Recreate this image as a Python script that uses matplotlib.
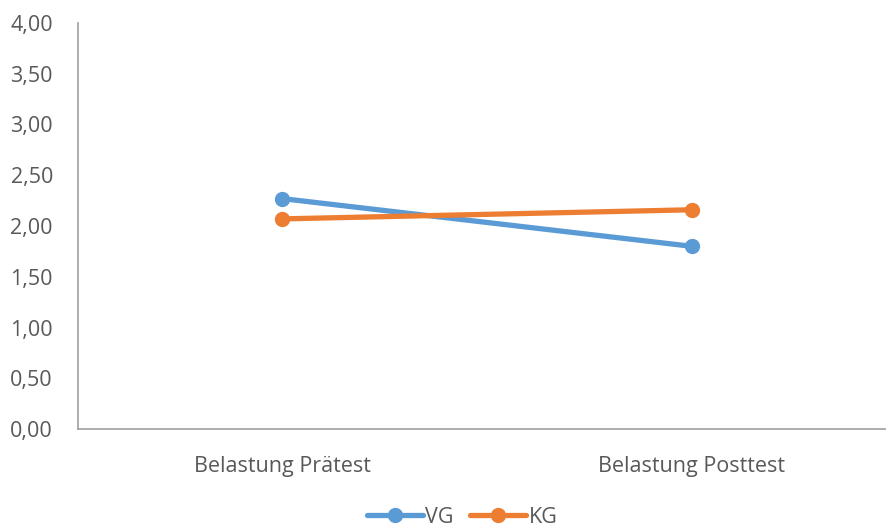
import matplotlib
matplotlib.use("Agg")
import matplotlib.pyplot as plt
from matplotlib.ticker import FuncFormatter

plt.rcParams['font.family'] = ['Open Sans', 'DejaVu Sans']

categories = ['Belastung Prätest', 'Belastung Posttest']
vg = [2.27, 1.80]
kg = [2.07, 2.16]
yticks = [0.0, 0.5, 1.0, 1.5, 2.0, 2.5, 3.0, 3.5, 4.0]

text_color = '#595959'
axis_color = '#a0a0a0'

fig = plt.figure(figsize=(8.87, 5.32), dpi=100)
ax = fig.add_axes([0.0879, 0.193, 0.9121, 0.7643])

x = list(range(len(categories)))
ax.plot(x, vg, color='#5b9bd5', lw=3.8, marker='o', ms=10,
        solid_capstyle='round', label='VG', zorder=3)
ax.plot(x, kg, color='#ed7d31', lw=3.8, marker='o', ms=10,
        solid_capstyle='round', label='KG', zorder=3)

ax.set_xlim(-0.4976, 1.4756)
ax.set_ylim(0, 4)
ax.set_yticks(yticks)
ax.yaxis.set_major_formatter(FuncFormatter(lambda v, p: f'{v:.2f}'.replace('.', ',')))
ax.set_xticks(x)
ax.set_xticklabels(categories)

for side in ['top', 'right']:
    ax.spines[side].set_visible(False)
for side in ['left', 'bottom']:
    ax.spines[side].set_color(axis_color)
    ax.spines[side].set_linewidth(1.2)

ax.tick_params(axis='y', length=0, pad=18, labelsize=15.5, labelcolor=text_color)
ax.tick_params(axis='x', length=0, pad=19, labelsize=15.5, labelcolor=text_color)

leg = ax.legend(loc='center', bbox_to_anchor=(0.4747, -0.2157), ncol=2, frameon=False,
                fontsize=15.5, handlelength=2.6, handletextpad=0.1, columnspacing=0.8,
                borderaxespad=0, borderpad=0)
for t in leg.get_texts():
    t.set_color(text_color)

fig.savefig('out.png', dpi=100)
